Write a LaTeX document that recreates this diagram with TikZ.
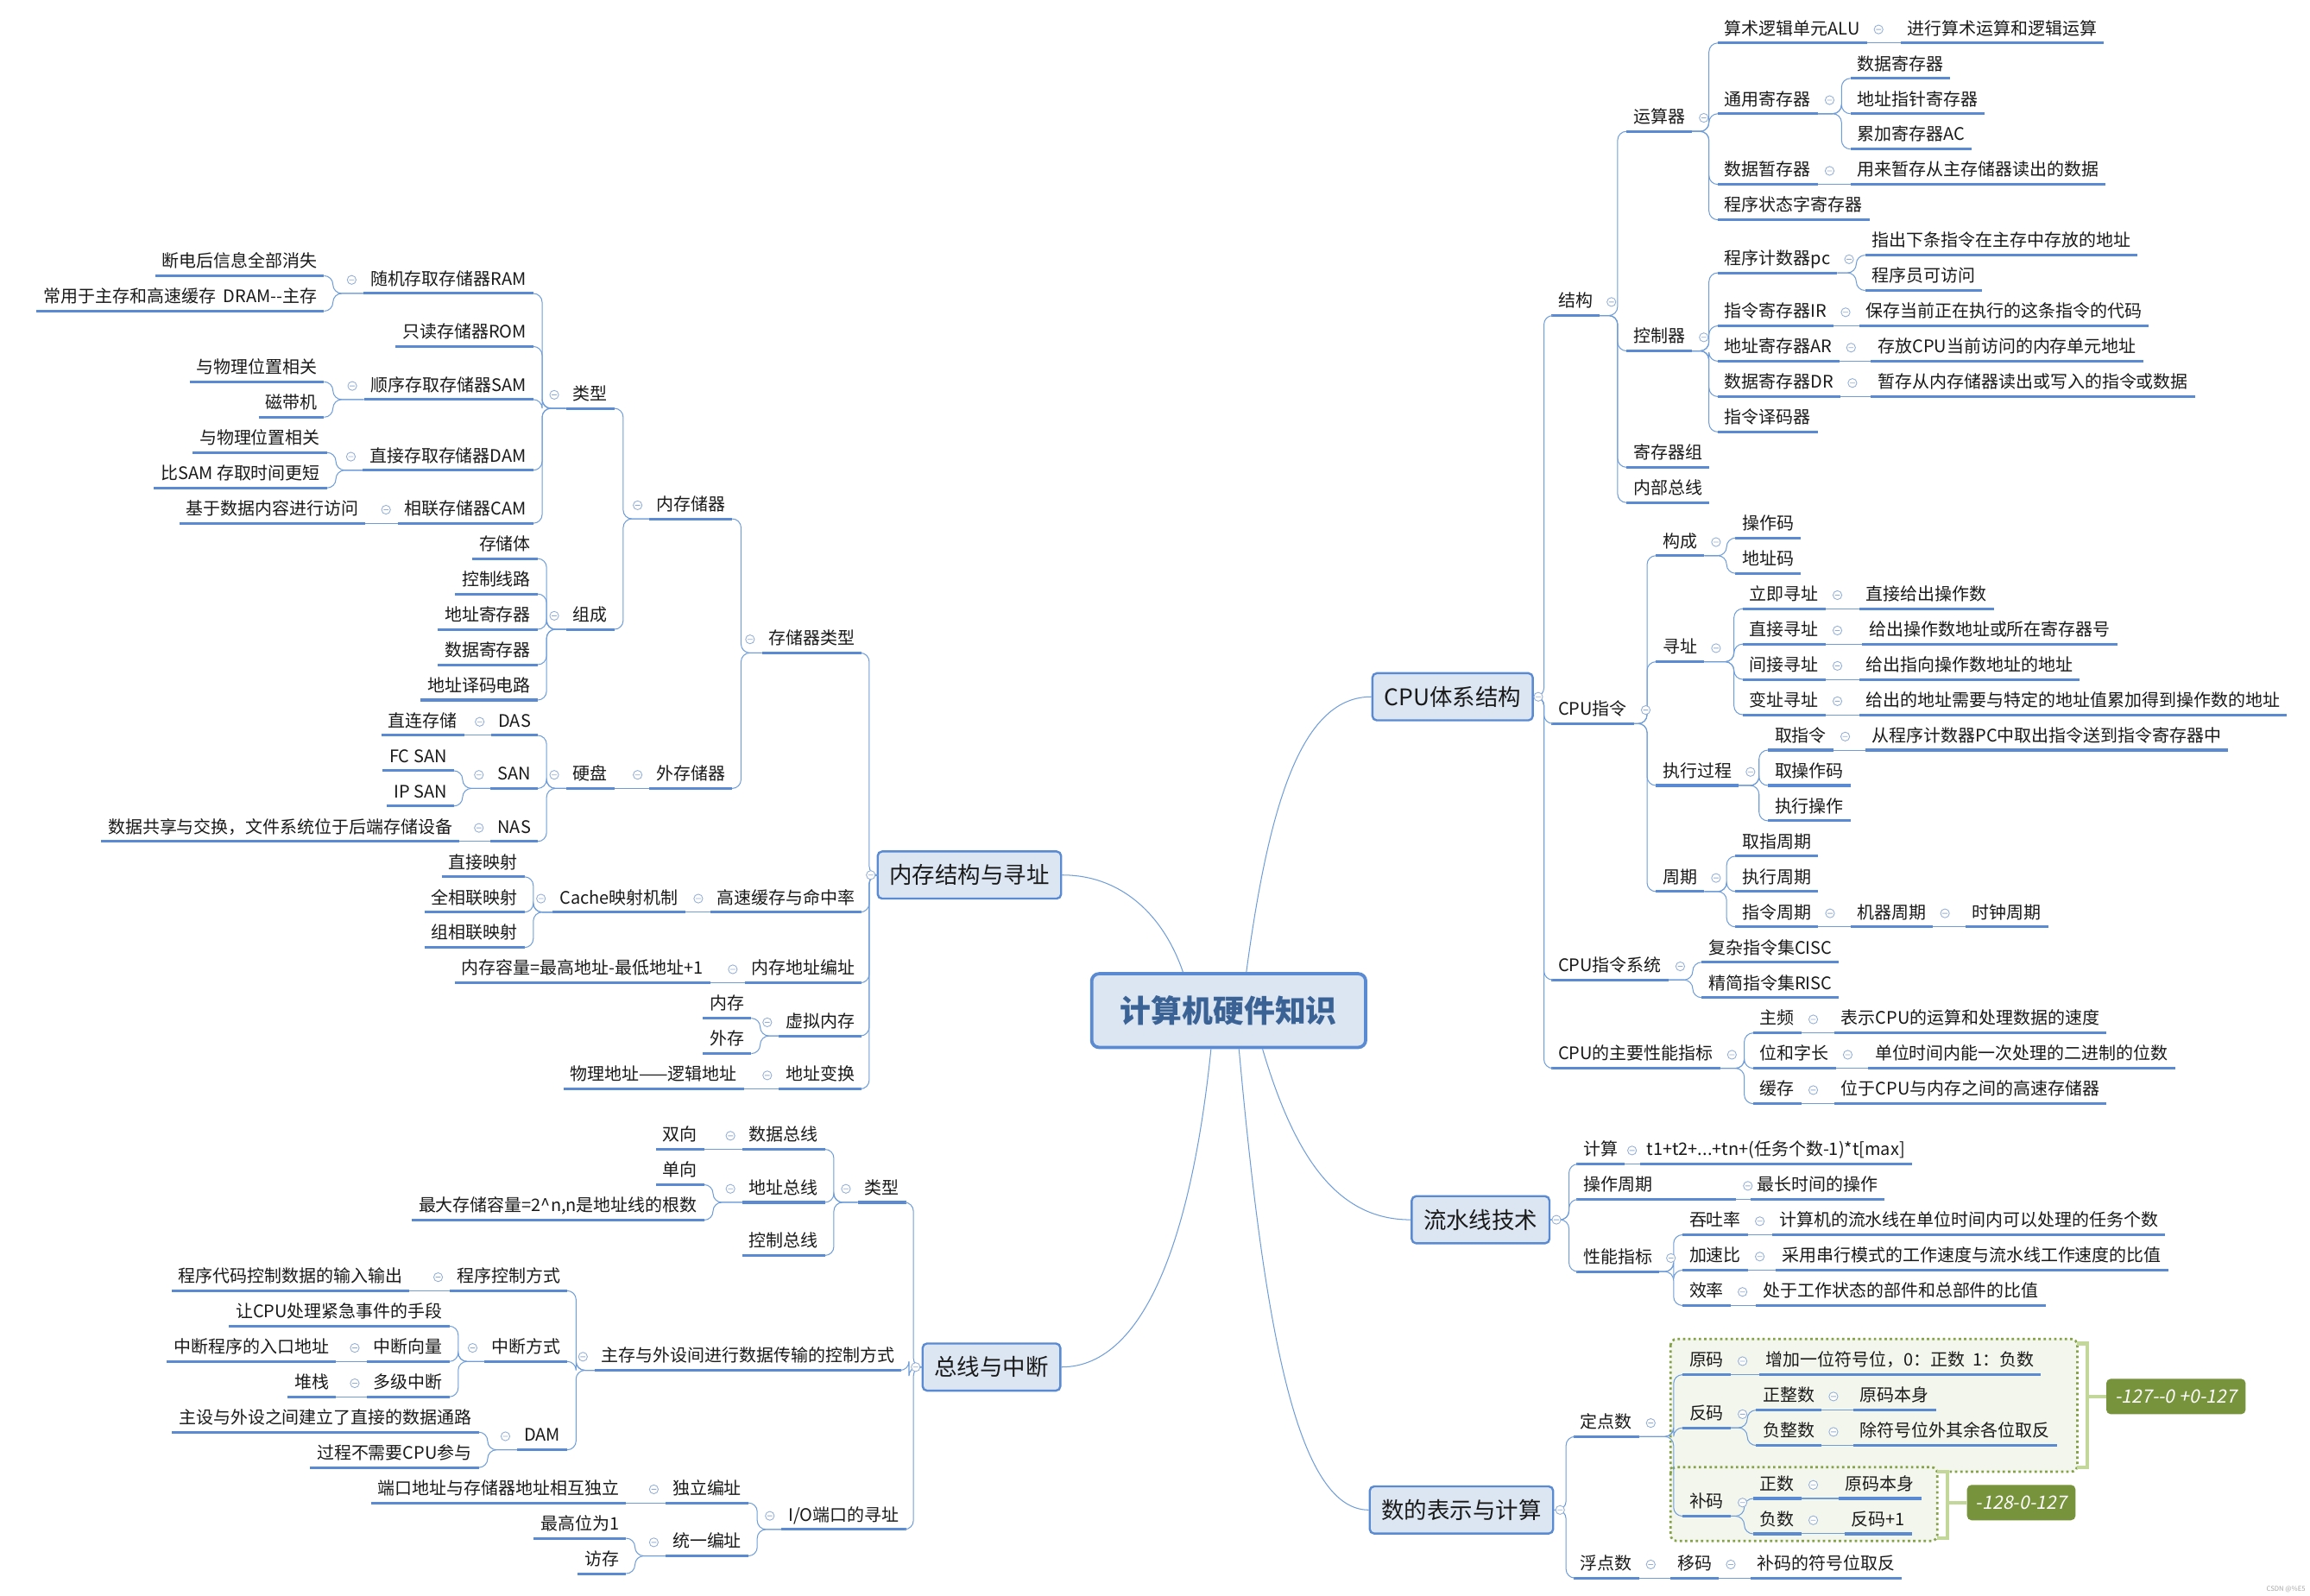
\documentclass[tikz,border=0pt]{standalone}
\usepackage{fontspec}
\setmainfont{Noto Sans CJK SC}
\newfontfamily\labfont{Noto Sans CJK SC}[FakeSlant=0.2]
\usetikzlibrary{calc}
\definecolor{ulc}{HTML}{5A8AD2}
\definecolor{lnc}{HTML}{6E9DDA}
\definecolor{icc}{HTML}{93AED6}
\definecolor{boxf}{HTML}{DCE6F2}
\definecolor{rootc}{HTML}{3B6294}
\definecolor{grpf}{HTML}{F3F6EC}
\definecolor{grpd}{HTML}{86A34A}
\definecolor{brkc}{HTML}{C4D79B}
\definecolor{labf}{HTML}{77933C}
\definecolor{txt}{HTML}{1A1A1A}
\tikzset{
  ul/.style={draw=ulc,line width=1.8pt},
  t/.style={font=\fontsize{11.7}{13}\selectfont,text=txt,inner xsep=4.5pt,inner ysep=3pt,
    text height=9.5pt,text depth=2.5pt,
    append after command={(\tikzlastnode.south west) edge[ul] (\tikzlastnode.south east)}},
  conn/.style={draw=lnc,line width=0.6pt,rounded corners=6pt},
  topic/.style={draw=ulc,line width=1.4pt,fill=boxf,rounded corners=3pt,
    font=\fontsize{15.5}{18}\selectfont,text=txt,inner xsep=8pt,minimum height=32pt},
  rootbox/.style={draw=ulc,line width=2.2pt,fill=boxf,rounded corners=5pt,
    font=\fontsize{21}{24}\selectfont\bfseries,text=rootc,minimum width=186pt,minimum height=50pt},
  icd/.style={draw=icc,line width=0.5pt,fill=white},
  grp/.style={draw=grpd,line width=1.6pt,dotted,fill=grpf,rounded corners=4pt},
  brk/.style={draw=brkc,line width=2.4pt},
  lab/.style={fill=labf,rounded corners=3pt,text=white,font=\fontsize{12.5}{14}\labfont,
    minimum height=24pt,inner xsep=6pt},
}
\newcommand\conR[2]{\draw[conn] (#1.south east) -| ([xshift=-6pt]#2.south west) -- (#2.south west);}
\newcommand\conRh[2]{\draw[conn] (#1.south east) -- (#2.south west);}
\newcommand\conL[2]{\draw[conn] (#1.south west) -| ([xshift=6pt]#2.south east) -- (#2.south east);}
\newcommand\conLh[2]{\draw[conn] (#1.south west) -- (#2.south east);}
\newcommand\icR[1]{\draw[icd] ([xshift=8pt]#1.east) circle[radius=3pt] ++(-1.7pt,0) -- ++(3.4pt,0);}
\newcommand\icL[1]{\draw[icd] ([xshift=-8pt]#1.west) circle[radius=3pt] ++(-1.7pt,0) -- ++(3.4pt,0);}
\newcommand\RN[4]{\node[t,anchor=west] (#1) at (#2,#3) {#4};}
\newcommand\LN[4]{\node[t,anchor=east] (#1) at (#2,#3) {#4};}
\begin{document}
\begin{tikzpicture}[x=1pt,y=-1pt]
\useasboundingbox (0,0) rectangle (1568,1083);
\fill[white] (0,0) rectangle (1568,1083);

% ---------- group boxes (number representation) ----------
\draw[grp] (1134,909) rectangle (1410,999);
\draw[grp] (1134,996) rectangle (1315,1046);

% ---------- root and topics ----------
\node[rootbox] (root) at (834,686) {计算机硬件知识};
\node[topic] (cpu) at (986,473) {CPU体系结构};
\node[topic] (mem) at (658,594) {内存结构与寻址};
\node[topic] (bus) at (673,928) {总线与中断};
\node[topic] (pipe) at (1005,828) {流水线技术};
\node[topic] (num) at (992,1025) {数的表示与计算};

\draw[conn] ([xshift=12pt]root.north) .. controls (862,540) and (885,473) .. (cpu.west);
\draw[conn] ([xshift=-31pt]root.north) .. controls (790,622) and (762,594) .. (mem.east);
\draw[conn] ([xshift=-12pt]root.south) .. controls (810,830) and (780,928) .. (bus.east);
\draw[conn] ([xshift=7pt]root.south) .. controls (858,900) and (880,1025) .. (num.west);
\draw[conn] ([xshift=23pt]root.south) .. controls (880,790) and (910,828) .. (pipe.west);

% ================= CPU 体系结构 =================
\RN{jg}{1053}{205}{结构}
\RN{zl}{1053}{482}{CPU指令}
\RN{zlxt}{1053}{656}{CPU指令系统}
\RN{xn}{1053}{716}{CPU的主要性能指标}
\foreach \c in {jg,zl,zlxt,xn}{\draw[conn] (cpu.east) -| ([xshift=-5pt]\c.south west) -- (\c.south west);}
\draw[icd] ([xshift=3pt]cpu.east) circle[radius=3pt] ++(-1.7pt,0) -- ++(3.4pt,0);

\RN{ysq}{1104}{80}{运算器}
\RN{kzq}{1104}{229}{控制器}
\RN{jcqz}{1104}{308}{寄存器组}
\RN{nbzx}{1104}{332}{内部总线}
\foreach \c in {ysq,kzq,jcqz,nbzx}{\conR{jg}{\c}}
\icR{jg}

\RN{alu}{1166}{20}{算术逻辑单元ALU}
\RN{tyjcq}{1166}{68}{通用寄存器}
\RN{sjzcq}{1166}{116}{数据暂存器}
\RN{ztz}{1166}{140}{程序状态字寄存器}
\foreach \c in {alu,tyjcq,sjzcq,ztz}{\conR{ysq}{\c}}
\icR{ysq}
\RN{alud}{1290}{20}{进行算术运算和逻辑运算}
\conRh{alu}{alud}\icR{alu}
\RN{aa}{1256}{44}{数据寄存器}
\RN{ab}{1256}{68}{地址指针寄存器}
\RN{ac}{1256}{92}{累加寄存器AC}
\foreach \c in {aa,ab,ac}{\conR{tyjcq}{\c}}
\icR{tyjcq}
\RN{sjzcqd}{1256}{116}{用来暂存从主存储器读出的数据}
\conRh{sjzcq}{sjzcqd}\icR{sjzcq}

\RN{pc}{1166}{176}{程序计数器pc}
\RN{ir}{1166}{212}{指令寄存器IR}
\RN{ar}{1166}{236}{地址寄存器AR}
\RN{dr}{1166}{260}{数据寄存器DR}
\RN{ymq}{1166}{284}{指令译码器}
\foreach \c in {pc,ir,ar,dr,ymq}{\conR{kzq}{\c}}
\icR{kzq}
\RN{pca}{1266}{164}{指出下条指令在主存中存放的地址}
\RN{pcb}{1266}{188}{程序员可访问}
\conR{pc}{pca}\conR{pc}{pcb}\icR{pc}
\RN{ird}{1262}{212}{保存当前正在执行的这条指令的代码}
\conRh{ir}{ird}\icR{ir}
\RN{ard}{1270}{236}{存放CPU当前访问的内存单元地址}
\conRh{ar}{ard}\icR{ar}
\RN{drd}{1270}{260}{暂存从内存储器读出或写入的指令或数据}
\conRh{dr}{drd}\icR{dr}

% CPU指令
\RN{gc}{1124}{368}{构成}
\RN{xz}{1124}{440}{寻址}
\RN{zxgc}{1124}{524}{执行过程}
\RN{zq}{1124}{596}{周期}
\foreach \c in {gc,xz,zxgc,zq}{\conR{zl}{\c}}
\icR{zl}
\RN{czm}{1178}{356}{操作码}
\RN{dzm}{1178}{380}{地址码}
\conR{gc}{czm}\conR{gc}{dzm}\icR{gc}
\RN{xa}{1183}{404}{立即寻址}
\RN{xb}{1183}{428}{直接寻址}
\RN{xc}{1183}{452}{间接寻址}
\RN{xd}{1183}{476}{变址寻址}
\foreach \c in {xa,xb,xc,xd}{\conR{xz}{\c}}
\icR{xz}
\RN{xad}{1262}{404}{直接给出操作数}
\RN{xbd}{1264}{428}{给出操作数地址或所在寄存器号}
\RN{xcd}{1262}{452}{给出指向操作数地址的地址}
\RN{xdd}{1262}{476}{给出的地址需要与特定的地址值累加得到操作数的地址}
\conRh{xa}{xad}\icR{xa}
\conRh{xb}{xbd}\icR{xb}
\conRh{xc}{xcd}\icR{xc}
\conRh{xd}{xdd}\icR{xd}
\RN{qzl}{1200}{500}{取指令}
\RN{qczm}{1200}{524}{取操作码}
\RN{zxcz}{1200}{548}{执行操作}
\foreach \c in {qzl,qczm,zxcz}{\conR{zxgc}{\c}}
\icR{zxgc}
\RN{qzld}{1266}{500}{从程序计数器PC中取出指令送到指令寄存器中}
\conRh{qzl}{qzld}\icR{qzl}
\RN{qzzq}{1178}{572}{取指周期}
\RN{zxzq}{1178}{596}{执行周期}
\RN{zlzq}{1178}{620}{指令周期}
\foreach \c in {qzzq,zxzq,zlzq}{\conR{zq}{\c}}
\icR{zq}
\RN{jqzq}{1256}{620}{机器周期}
\RN{szzq}{1334}{620}{时钟周期}
\conRh{zlzq}{jqzq}\icR{zlzq}
\conRh{jqzq}{szzq}\icR{jqzq}

% CPU指令系统
\RN{cisc}{1155}{644}{复杂指令集CISC}
\RN{risc}{1155}{668}{精简指令集RISC}
\conR{zlxt}{cisc}\conR{zlxt}{risc}\icR{zlxt}

% 性能指标
\RN{zp}{1190}{692}{主频}
\RN{wzc}{1190}{716}{位和字长}
\RN{hc}{1190}{740}{缓存}
\foreach \c in {zp,wzc,hc}{\conR{xn}{\c}}
\icR{xn}
\RN{zpd}{1245}{692}{表示CPU的运算和处理数据的速度}
\RN{wzcd}{1268}{716}{单位时间内能一次处理的二进制的位数}
\RN{hcd}{1245}{740}{位于CPU与内存之间的高速存储器}
\conRh{zp}{zpd}\icR{zp}
\conRh{wzc}{wzcd}\icR{wzc}
\conRh{hc}{hcd}\icR{hc}

% ================= 流水线技术 =================
\RN{js}{1070}{781}{计算}
\RN{czzq}{1070}{805}{\makebox[99pt][l]{操作周期}}
\RN{xnzb}{1070}{854}{性能指标}
\foreach \c in {js,czzq,xnzb}{\draw[conn] (pipe.east) -| ([xshift=-5pt]\c.south west) -- (\c.south west);}
\draw[icd] ([xshift=4pt]pipe.east) circle[radius=3pt] ++(-1.7pt,0) -- ++(3.4pt,0);
\RN{jsd}{1113}{781}{t1+t2+...+tn+(任务个数-1)*t[max]}
\conRh{js}{jsd}\draw[icd] ([xshift=5pt]js.east) circle[radius=3pt] ++(-1.7pt,0) -- ++(3.4pt,0);
\RN{czzqd}{1188}{805}{最长时间的操作}
\conRh{czzq}{czzqd}\icR{czzq}
\RN{ttl}{1142}{829}{吞吐率}
\RN{jsb}{1142}{853}{加速比}
\RN{xl}{1142}{877}{效率}
\foreach \c in {ttl,jsb,xl}{\conR{xnzb}{\c}}
\icR{xnzb}
\RN{ttld}{1203}{829}{计算机的流水线在单位时间内可以处理的任务个数}
\RN{jsbd}{1205}{853}{采用串行模式的工作速度与流水线工作速度的比值}
\RN{xld}{1192}{877}{处于工作状态的部件和总部件的比值}
\conRh{ttl}{ttld}\icR{ttl}
\conRh{jsb}{jsbd}\icR{jsb}
\conRh{xl}{xld}\icR{xl}

% ================= 数的表示与计算 =================
\RN{ddz}{1068}{966}{定点数}
\RN{fdz}{1068}{1062}{浮点数}
\foreach \c in {ddz,fdz}{\draw[conn] (num.east) -| ([xshift=-5pt]\c.south west) -- (\c.south west);}
\draw[icd] ([xshift=4pt]num.east) circle[radius=3pt] ++(-1.7pt,0) -- ++(3.4pt,0);
\RN{ym}{1142}{924}{原码}
\RN{fm}{1142}{960}{反码}
\RN{bm}{1142}{1020}{补码}
\foreach \c in {ym,fm,bm}{\conR{ddz}{\c}}
\icR{ddz}
\RN{ymd}{1194}{924}{增加一位符号位，0：正数\ \ 1：负数}
\conRh{ym}{ymd}\icR{ym}
\RN{zzs}{1192}{948}{正整数}
\RN{fzs}{1192}{972}{负整数}
\conR{fm}{zzs}\conR{fm}{fzs}\icR{fm}
\RN{zzsd}{1258}{948}{原码本身}
\RN{fzsd}{1258}{972}{除符号位外其余各位取反}
\conRh{zzs}{zzsd}\icR{zzs}
\conRh{fzs}{fzsd}\icR{fzs}
\RN{zs}{1190}{1008}{正数}
\RN{fs}{1190}{1032}{负数}
\conR{bm}{zs}\conR{bm}{fs}\icR{bm}
\RN{zsd}{1248}{1008}{原码本身}
\RN{fsd}{1252}{1032}{反码+1}
\conRh{zs}{zsd}\icR{zs}
\conRh{fs}{fsd}\icR{fs}
\RN{ymm}{1134}{1062}{移码}
\RN{ymmd}{1188}{1062}{补码的符号位取反}
\conRh{fdz}{ymm}\icR{fdz}
\conRh{ymm}{ymmd}\icR{ymm}

\draw[brk] (1410,912) -- (1417,912) -- (1417,996) -- (1410,996);
\node[lab] (la) at (1477,948) {-127-{}-0 +0-127};
\draw[brk] (1417,948) -- (la.west);
\draw[brk] (1315,999) -- (1322,999) -- (1322,1044) -- (1315,1044);
\node[lab] (lb) at (1372,1020) {-128-0-127};
\draw[brk] (1322,1020) -- (lb.west);

% ================= 内存结构与寻址 =================
\LN{cclx}{585}{434}{存储器类型}
\LN{gshc}{585}{610}{高速缓存与命中率}
\LN{ncdz}{585}{658}{内存地址编址}
\LN{xnnc}{585}{694}{虚拟内存}
\LN{dzbh}{585}{730}{地址变换}
\foreach \c in {cclx,gshc,ncdz,xnnc,dzbh}{\draw[conn] (mem.west) -| ([xshift=5pt]\c.south east) -- (\c.south east);}
\draw[icd] ([xshift=-4pt]mem.west) circle[radius=3pt] ++(-1.7pt,0) -- ++(3.4pt,0);

\LN{ncq}{497}{343}{内存储器}
\LN{wcq}{497}{526}{外存储器}
\conL{cclx}{ncq}\conL{cclx}{wcq}\icL{cclx}
\LN{lxa}{417}{268}{类型}
\LN{zc}{417}{418}{组成}
\conL{ncq}{lxa}\conL{ncq}{zc}\icL{ncq}
\LN{ram}{362}{190}{随机存取存储器RAM}
\LN{rom}{362}{226}{只读存储器ROM}
\LN{sam}{362}{262}{顺序存取存储器SAM}
\LN{dam}{362}{310}{直接存取存储器DAM}
\LN{cam}{362}{346}{相联存储器CAM}
\foreach \c in {ram,rom,sam,dam,cam}{\conL{lxa}{\c}}
\icL{lxa}
\LN{rama}{220}{178}{断电后信息全部消失}
\LN{ramb}{220}{202}{常用于主存和高速缓存\ \ DRAM-{}-主存}
\conL{ram}{rama}\conL{ram}{ramb}\icL{ram}
\LN{sama}{220}{250}{与物理位置相关}
\LN{samb}{220}{274}{磁带机}
\conL{sam}{sama}\conL{sam}{samb}\icL{sam}
\LN{dama}{222}{298}{与物理位置相关}
\LN{damb}{222}{322}{比SAM 存取时间更短}
\conL{dam}{dama}\conL{dam}{damb}\icL{dam}
\LN{camd}{248}{346}{基于数据内容进行访问}
\conLh{cam}{camd}\icL{cam}
\LN{zca}{365}{370}{存储体}
\LN{zcb}{365}{394}{控制线路}
\LN{zcc}{365}{418}{地址寄存器}
\LN{zcd}{365}{442}{数据寄存器}
\LN{zce}{365}{466}{地址译码电路}
\foreach \c in {zca,zcb,zcc,zcd,zce}{\conL{zc}{\c}}
\icL{zc}
\LN{yp}{417}{526}{硬盘}
\conLh{wcq}{yp}\icL{wcq}
\LN{das}{365}{490}{DAS}
\LN{san}{365}{526}{SAN}
\LN{nas}{365}{562}{NAS}
\foreach \c in {das,san,nas}{\conL{yp}{\c}}
\icL{yp}
\LN{dasd}{315}{490}{直连存储}
\conLh{das}{dasd}\icL{das}
\LN{sana}{308}{514}{FC SAN}
\LN{sanb}{308}{538}{IP SAN}
\conL{san}{sana}\conL{san}{sanb}\icL{san}
\LN{nasd}{312}{562}{数据共享与交换，文件系统位于后端存储设备}
\conLh{nas}{nasd}\icL{nas}

\LN{cache}{465}{610}{Cache映射机制}
\conLh{gshc}{cache}\icL{gshc}
\LN{ca}{356}{586}{直接映射}
\LN{cb}{356}{610}{全相联映射}
\LN{cc}{356}{634}{组相联映射}
\foreach \c in {ca,cb,cc}{\conL{cache}{\c}}
\icL{cache}
\LN{ncdzd}{482}{658}{内存容量=最高地址-最低地址+1}
\conLh{ncdz}{ncdzd}\icL{ncdz}
\LN{nc}{510}{682}{内存}
\LN{wc}{510}{706}{外存}
\conL{xnnc}{nc}\conL{xnnc}{wc}\icL{xnnc}
\LN{dzbhd}{505}{730}{物理地址——逻辑地址}
\conLh{dzbh}{dzbhd}\icL{dzbh}

% ================= 总线与中断 =================
\LN{lxb}{615}{807}{类型}
\LN{kzfs}{612}{921}{主存与外设间进行数据传输的控制方式}
\LN{io}{615}{1029}{I/O端口的寻址}
\foreach \c in {lxb,kzfs,io}{\draw[conn] (bus.west) -| ([xshift=5pt]\c.south east) -- (\c.south east);}
\draw[icd] ([xshift=-4pt]bus.west) circle[radius=3pt] ++(-1.7pt,0) -- ++(3.4pt,0);
\LN{sjzx}{560}{771}{数据总线}
\LN{dzzx}{560}{807}{地址总线}
\LN{kzzx}{560}{843}{控制总线}
\foreach \c in {sjzx,dzzx,kzzx}{\conL{lxb}{\c}}
\icL{lxb}
\LN{sx}{478}{771}{双向}
\conLh{sjzx}{sx}\icL{sjzx}
\LN{dx}{478}{795}{单向}
\LN{zdrl}{478}{819}{最大存储容量=2\textasciicircum n,n是地址线的根数}
\conL{dzzx}{dx}\conL{dzzx}{zdrl}\icL{dzzx}
\LN{cxkz}{385}{867}{程序控制方式}
\LN{zdfs}{385}{915}{中断方式}
\LN{dma}{385}{975}{DAM}
\foreach \c in {cxkz,zdfs,dma}{\conL{kzfs}{\c}}
\icL{kzfs}
\LN{cxkzd}{278}{867}{程序代码控制数据的输入输出}
\conLh{cxkz}{cxkzd}\icL{cxkz}
\LN{zda}{305}{891}{让CPU处理紧急事件的手段}
\LN{zdxl}{305}{915}{中断向量}
\LN{djzd}{305}{939}{多级中断}
\foreach \c in {zda,zdxl,djzd}{\conL{zdfs}{\c}}
\icL{zdfs}
\LN{zdxld}{228}{915}{中断程序的入口地址}
\conLh{zdxl}{zdxld}\icL{zdxl}
\LN{dz}{228}{939}{堆栈}
\conLh{djzd}{dz}\icL{djzd}
\LN{dmaa}{325}{963}{主设与外设之间建立了直接的数据通路}
\LN{dmab}{325}{987}{过程不需要CPU参与}
\conL{dma}{dmaa}\conL{dma}{dmab}\icL{dma}
\LN{dlbz}{508}{1011}{独立编址}
\LN{tybz}{508}{1047}{统一编址}
\conL{io}{dlbz}\conL{io}{tybz}\icL{io}
\LN{dlbzd}{425}{1011}{端口地址与存储器地址相互独立}
\conLh{dlbz}{dlbzd}\icL{dlbz}
\LN{zgw}{425}{1035}{最高位为1}
\LN{fc}{425}{1059}{访存}
\conL{tybz}{zgw}\conL{tybz}{fc}\icL{tybz}

\node[font=\fontsize{4.5}{5}\selectfont,text=black!35,anchor=south east,inner sep=1pt] (wm) at (1566,1082) {CSDN @\%E5};
\end{tikzpicture}
\end{document}
